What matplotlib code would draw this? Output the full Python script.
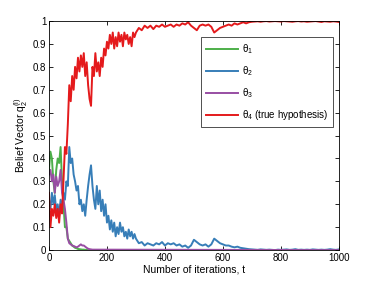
import matplotlib
matplotlib.use("Agg")
import matplotlib.pyplot as plt
import numpy as np

plt.rcParams['font.family'] = ['Liberation Sans', 'DejaVu Sans']
plt.rcParams['mathtext.fontset'] = 'custom'
plt.rcParams['mathtext.rm'] = 'Liberation Sans'
plt.rcParams['mathtext.it'] = 'Liberation Sans'

# iteration grid: every 5 steps up to 300, then every 10
t_fine = list(range(0, 301, 5))
t_coarse = list(range(310, 1001, 10))
t_long = t_fine + t_coarse

red = [0.25, 0.10, 0.18, 0.15, 0.20, 0.14, 0.18, 0.12, 0.20, 0.16,
       0.30, 0.45, 0.42, 0.55, 0.72, 0.65, 0.76, 0.70, 0.80, 0.75,
       0.84, 0.78, 0.85, 0.80, 0.86, 0.76, 0.82, 0.72, 0.66, 0.63,
       0.80, 0.76, 0.86, 0.78, 0.82, 0.76, 0.84, 0.80, 0.88, 0.85,
       0.91, 0.88, 0.94, 0.90, 0.95, 0.88, 0.93, 0.89, 0.95, 0.91,
       0.94, 0.89, 0.95, 0.92, 0.94, 0.90, 0.93, 0.89, 0.95, 0.93,
       0.95,
       0.97, 0.96, 0.98, 0.97, 0.98, 0.965, 0.98, 0.975, 0.985, 0.975,
       0.98, 0.985, 0.975, 0.985, 0.98, 0.99, 0.985, 0.995, 0.98, 0.97,
       0.96, 0.98, 0.985, 0.98, 0.985, 0.975, 0.95, 0.96, 0.97, 0.975,
       0.98, 0.985, 0.98, 0.99, 0.985, 0.99, 0.995, 0.99, 0.995, 0.997,
       0.998, 0.999, 0.997, 0.999, 1.0, 0.998, 0.999, 1.0, 0.999, 0.998,
       1.0, 0.999, 0.998, 0.997, 0.999, 1.0, 0.998, 0.999, 0.997, 0.998,
       0.999, 1.0, 0.998, 0.996, 0.999, 0.998, 0.997, 0.999, 0.998, 0.996]

blue = [0.22, 0.18, 0.25, 0.20, 0.24, 0.17, 0.20, 0.15, 0.22, 0.18,
        0.25, 0.22, 0.30, 0.28, 0.45, 0.38, 0.40, 0.33, 0.30, 0.26,
        0.28, 0.20, 0.22, 0.17, 0.20, 0.15, 0.22, 0.28, 0.33, 0.37,
        0.28, 0.22, 0.18, 0.28, 0.20, 0.26, 0.17, 0.22, 0.15, 0.20,
        0.12, 0.15, 0.09, 0.13, 0.08, 0.12, 0.06, 0.10, 0.07, 0.12,
        0.08, 0.10, 0.06, 0.08, 0.05, 0.09, 0.06, 0.08, 0.05, 0.07,
        0.05,
        0.03, 0.035, 0.02, 0.03, 0.025, 0.02, 0.03, 0.025, 0.035, 0.02,
        0.03, 0.025, 0.03, 0.02, 0.025, 0.015, 0.02, 0.01, 0.02, 0.045,
        0.035, 0.025, 0.02, 0.025, 0.015, 0.025, 0.05, 0.04, 0.03, 0.025,
        0.02, 0.02, 0.015, 0.012, 0.015, 0.01, 0.008, 0.006, 0.004, 0.003,
        0.002, 0.001, 0.003, 0.002, 0.001, 0.002, 0.001, 0.0, 0.002, 0.001,
        0.002, 0.003, 0.001, 0.002, 0.004, 0.001, 0.002, 0.001, 0.002, 0.001,
        0.003, 0.002, 0.001, 0.002, 0.001, 0.002, 0.004, 0.002, 0.001, 0.003]

t_short = list(range(0, 151, 5)) + [1000]
green = [0.35, 0.43, 0.40, 0.30, 0.25, 0.35, 0.40, 0.38, 0.45, 0.30,
         0.20, 0.10, 0.10, 0.05, 0.04, 0.03, 0.02, 0.015, 0.01, 0.008,
         0.005, 0.004, 0.003, 0.002, 0.002, 0.001, 0.001, 0.0, 0.0, 0.0,
         0.0, 0.0]
purple = [0.33, 0.35, 0.30, 0.33, 0.25, 0.32, 0.28, 0.30, 0.35, 0.25,
          0.22, 0.18, 0.12, 0.05, 0.03, 0.025, 0.02, 0.018, 0.015, 0.012,
          0.015, 0.02, 0.025, 0.02, 0.02, 0.015, 0.01, 0.006, 0.004, 0.003,
          0.002, 0.0]

fig = plt.figure(figsize=(3.74, 2.81), dpi=100)
ax = fig.add_axes([0.131, 0.110, 0.775, 0.815])

lw = 1.4
ax.plot(t_short, green, color='#4daf4a', lw=lw, label=r'$\mathrm{\theta}_1$')
ax.plot(t_long, blue, color='#377eb8', lw=lw, label=r'$\mathrm{\theta}_2$')
ax.plot(t_short, purple, color='#984ea3', lw=lw, label=r'$\mathrm{\theta}_3$')
ax.plot(t_long, red, color='#e41a1c', lw=lw, label=r'$\mathrm{\theta}_4$ (true hypothesis)')

ax.set_xlim(0, 1000)
ax.set_ylim(0, 1)
ax.set_xticks([0, 200, 400, 600, 800, 1000])
ax.set_yticks(np.arange(0, 1.01, 0.1))
ax.set_yticklabels(['0', '0.1', '0.2', '0.3', '0.4', '0.5', '0.6', '0.7', '0.8', '0.9', '1'])
ax.tick_params(direction='in', top=True, right=True, labelsize=7, length=3, width=0.6, pad=2)
for s in ax.spines.values():
    s.set_linewidth(0.6)

ax.set_xlabel('Number of iterations, t', fontsize=7.5, labelpad=1)
ax.set_ylabel(r'Belief Vector $\mathrm{q}_2^{(l)}$', fontsize=7.5, labelpad=2)

leg = ax.legend(loc='upper right', bbox_to_anchor=(0.98, 0.93), borderaxespad=0,
                fontsize=7, frameon=True, fancybox=False, edgecolor='black',
                handlelength=3.3, labelspacing=0.85, borderpad=0.5, handletextpad=0.4)
leg.get_frame().set_linewidth(0.6)

fig.savefig('out.png', dpi=100)
